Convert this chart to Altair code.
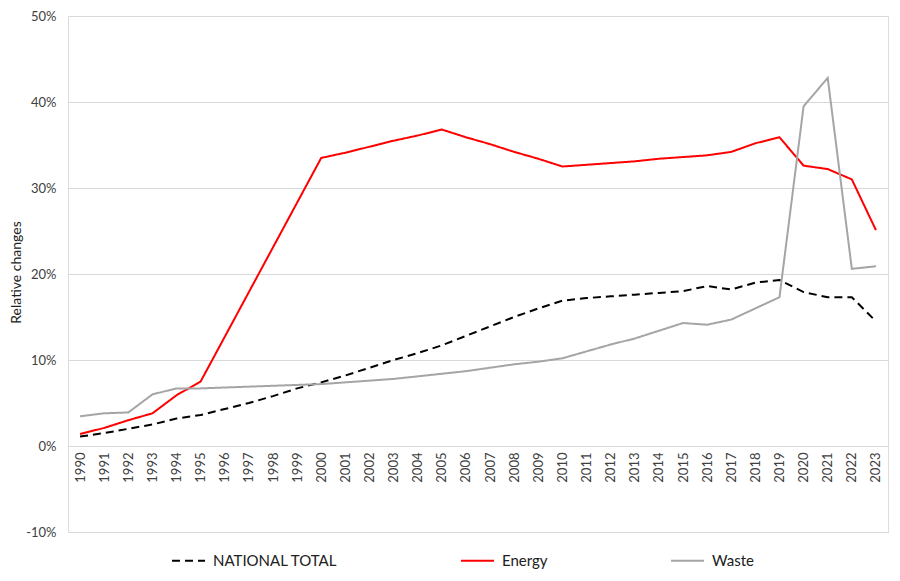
import altair as alt
import pandas as pd

years = [str(y) for y in range(1990, 2024)]

national = [1.1, 1.5, 2.0, 2.5, 3.2, 3.6, 4.3, 5.0, 5.8, 6.7,
            7.4, 8.2, 9.1, 10.0, 10.8, 11.7, 12.8, 13.9, 15.0, 16.0,
            16.9, 17.2, 17.4, 17.6, 17.8, 18.0, 18.6, 18.2, 19.0, 19.3,
            17.9, 17.3, 17.3, 14.5]

energy = [1.4, 2.1, 3.0, 3.8, 5.9, 7.5, 12.7, 17.9, 23.1, 28.3,
          33.5, 34.1, 34.8, 35.5, 36.1, 36.8, 35.9, 35.1, 34.2, 33.4,
          32.5, 32.7, 32.9, 33.1, 33.4, 33.6, 33.8, 34.2, 35.2, 35.9,
          32.6, 32.2, 31.0, 25.1]

waste = [3.45, 3.8, 3.9, 6.0, 6.7, 6.7, 6.8, 6.9, 7.0, 7.1,
         7.2, 7.4, 7.6, 7.8, 8.1, 8.4, 8.7, 9.1, 9.5, 9.8,
         10.2, 11.0, 11.8, 12.5, 13.4, 14.3, 14.1, 14.7, 16.0, 17.3,
         39.5, 42.8, 20.6, 20.9]

series_names = ["NATIONAL TOTAL", "Energy", "Waste"]
series_colors = ["#000000", "#FF0000", "#A5A5A5"]
series_dash = [[8, 5], [1, 0], [1, 0]]
y_ticks = [-0.1, 0.0, 0.1, 0.2, 0.3, 0.4, 0.5]

rows = []
for name, vals in zip(series_names, [national, energy, waste]):
    for yr, v in zip(years, vals):
        rows.append({"year": yr, "value": v / 100.0, "series": name})
df = pd.DataFrame(rows)

FONT = "Lato"


def make_legend():
    return alt.Legend(orient="none", legendX=103, legendY=527,
                      direction="horizontal", title=None,
                      symbolType="stroke", symbolSize=1089,
                      symbolStrokeWidth=2, labelFontSize=15,
                      labelFont=FONT, labelColor="#202020",
                      labelOffset=7, columnPadding=119)


chart = alt.Chart(df).mark_line(strokeWidth=2).encode(
    x=alt.X("year:O", sort=years,
            scale=alt.Scale(padding=0.5),
            axis=alt.Axis(title=None, labelAngle=270, domain=False, ticks=False,
                          grid=False, offset=-86, labelPadding=6,
                          labelFontSize=13, labelColor="#404040", labelFont=FONT)),
    y=alt.Y("value:Q",
            scale=alt.Scale(domain=[-0.1, 0.5], nice=False, zero=False),
            axis=alt.Axis(values=y_ticks, domain=False, ticks=False, grid=True,
                          gridColor="#D9D9D9", gridWidth=1,
                          labelExpr="(datum.value < -0.0001 ? '-' : '') + format(abs(datum.value), '.0%')",
                          labelFontSize=13, labelColor="#404040", labelFont=FONT,
                          labelPadding=12,
                          title="Relative changes", titleFontSize=14,
                          titleFontWeight="normal", titleColor="#202020",
                          titleFont=FONT, titleX=-52, titleY=256,
                          titleBaseline="middle", titleAngle=270)),
    color=alt.Color("series:N",
                    scale=alt.Scale(domain=series_names, range=series_colors),
                    legend=make_legend()),
    strokeDash=alt.StrokeDash("series:N",
                              scale=alt.Scale(domain=series_names, range=series_dash),
                              legend=make_legend()),
).properties(
    width=820,
    height=516,
    autosize=alt.AutoSizeParams(type="none"),
    padding={"left": 60, "top": 8, "right": 4, "bottom": 41},
).configure_view(stroke=None).configure(background="white")

chart.save("out.html", embed_options={"renderer": "svg", "actions": False})
